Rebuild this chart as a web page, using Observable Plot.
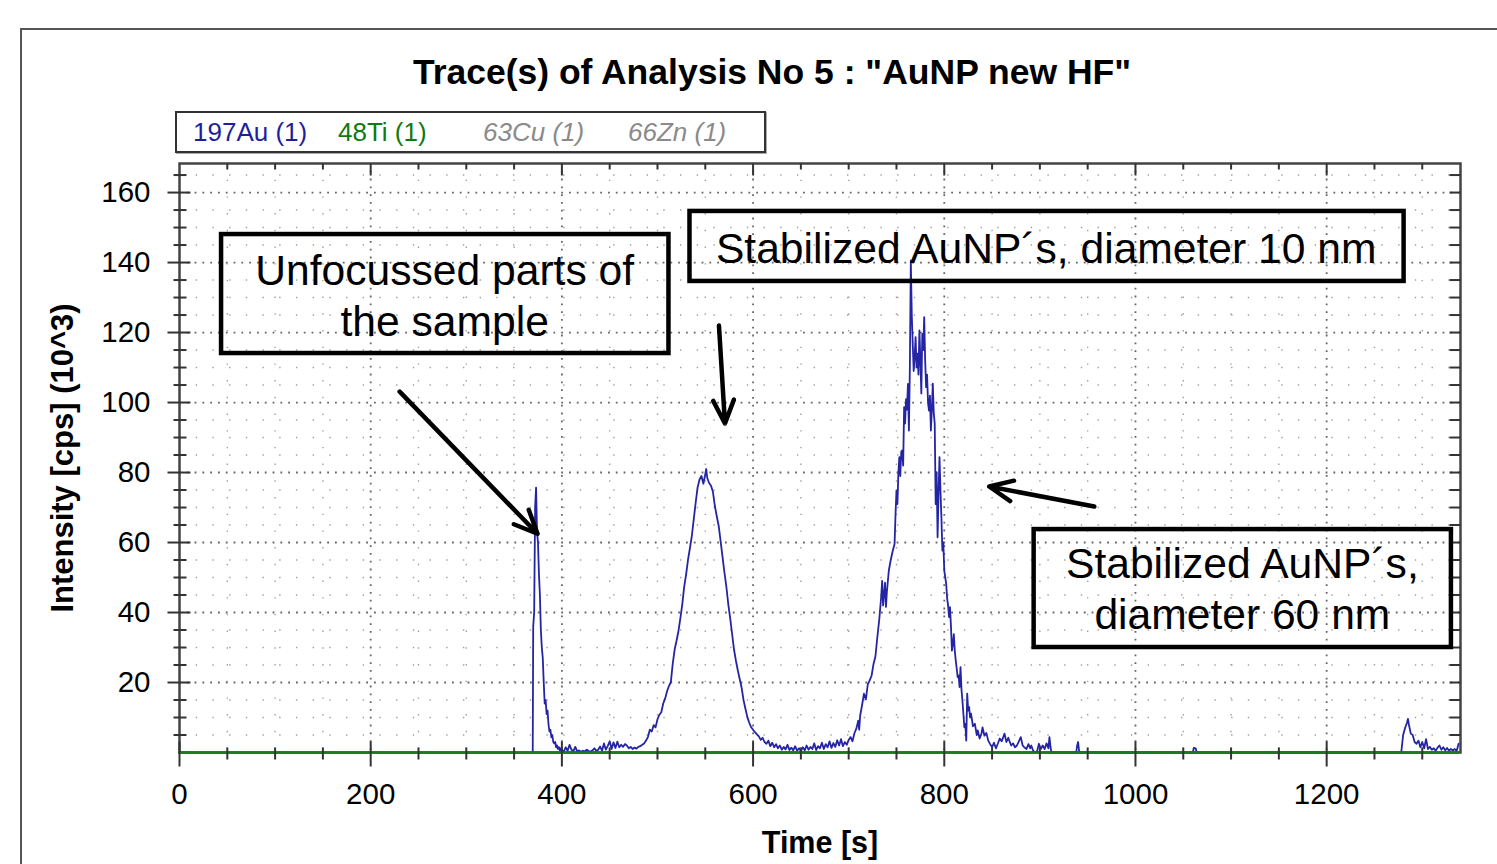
<!DOCTYPE html>
<html><head><meta charset="utf-8">
<script src="https://cdn.jsdelivr.net/npm/d3@7"></script>
<script src="https://cdn.jsdelivr.net/npm/@observablehq/plot@0.6"></script>
<style>
html,body{margin:0;padding:0;background:#fff;overflow:hidden;}
body{width:1497px;height:864px;position:relative;font-family:Arial,"Liberation Sans",sans-serif;}
#header{position:relative;height:155px;}
#title{position:absolute;left:0;width:1544px;top:52px;text-align:center;font-size:35.5px;font-weight:bold;line-height:40px;color:#000;}
#legend{position:absolute;left:175px;top:111px;width:587px;height:38px;border:2px solid #333;box-shadow:1px 1px 0 #aaa;}
.item{position:absolute;top:0;font-size:26px;line-height:38px;white-space:nowrap;}
#frame{position:absolute;left:20px;top:28px;width:1500px;height:900px;border-top:2px solid #555;border-left:2px solid #555;pointer-events:none;}
#chart{position:relative;}
</style>
</head>
<body>
<div id="header">
  <div id="title">Trace(s) of Analysis No 5 : "AuNP new HF"</div>
  <div id="legend"></div>
</div>
<div id="chart"></div>
<div id="frame"></div>
<script>
// ---- data ----
const legendLabels = ["197Au (1)", "48Ti (1)", "63Cu (1)", "66Zn (1)"];
const legendColors = ["#1f1f9a", "#0f7a0f", "#8a8a8a", "#8a8a8a"];
const legendItalic = [false, false, true, true];

const xTickValues = [0, 200, 400, 600, 800, 1000, 1200];
const yTickValues = [20, 40, 60, 80, 100, 120, 140, 160];

// 197Au trace: [time s, intensity 10^3 cps]
const au197 = [
[369.5,0],[370,36],[371,40],[372,70],[373,75.7],[374,63],[375,60],[376,51],[377,45],[378,35],[379,30],[380,27],[381,20],[382,14],[383,15],[384,11],[385,12],[386,8],[387,6],[388,6.5],[389,4.3],[390,5],[391,3],[392,2.6],[393,3],[394,1.5],[395,2],[396,1],[397,1.5],[398,0.5],[399,1.2],[400,0.6],
[402,0.3],[404,1.5],[406,0.5],[408,2.2],[410,0.8],[412,0.4],[414,1.6],[416,0.3],[418,0.6],[420,0.2],[422,0.5],[424,0.3],[426,0.8],[428,0.4],[430,0.3],[432,0.6],[434,1.2],[436,0.4],[438,0.8],[440,1.7],[442,0.5],[444,2.6],[446,0.8],[448,1.9],[450,3.2],[452,1.0],[454,2.9],[456,1.3],[458,3.1],[460,1.5],[462,2.2],[464,1.6],[466,2.4],[468,2.0],
[470,1.2],[472,1.6],[474,1.0],[476,1.4],[478,1.1],[480,1.6],[482,1.8],[484,2.2],[486,2.6],[488,3.4],[490,4.4],
[492,6.5],[494,6.0],[496,7.8],[498,7.2],[500,9.5],[502,10.8],[504,11.5],[506,14.0],[508,15.4],[510,17.5],[512,19.0],[514,20.2],[516,25.5],[518,29.5],[520,32.0],[522,34.8],[524,38.5],[526,42.5],[528,47.5],[530,51.0],[532,55.2],[534,58.5],[536,62.0],[538,66.8],[540,71.5],[542,75.8],[544,78.0],[546,79.0],[548,76.8],[550,79.5],[551,81.0],[552,78.5],[554,77.0],[556,76.2],[558,74.5],[560,70.5],[562,67.5],[564,64.8],[566,60.5],[568,56.0],[570,51.5],[572,47.5],[574,42.5],[576,38.5],[578,34.0],[580,29.5],[582,26.3],[584,23.5],[586,21.0],[588,18.5],[590,15.0],[592,12.5],[594,10.1],[596,8.5],[598,7.2],[600,6.5],[602,5.8],[604,5.2],[606,4.6],[608,3.6],[610,4.2],[612,3.0],[614,2.5],[616,3.4],[618,1.8],[620,2.8],[622,1.5],[624,2.4],[626,1.2],[628,2.0],[630,0.8],[632,1.6],[634,0.9],[636,2.2],[638,0.7],[640,1.4],[642,0.6],[644,1.8],[646,0.5],[648,1.2],[650,0.4],[652,1.5],[654,0.6],[656,2.0],[658,0.8],[660,1.6],[662,1.0],[664,2.6],[666,0.7],[668,1.8],[670,1.2],[672,2.8],[674,1.0],[676,2.4],[678,1.5],[680,3.2],[682,1.3],[684,2.7],[686,1.6],[688,3.5],[690,2.0],[692,3.8],[694,1.8],[696,3.0],[698,2.2],[700,3.6],
[702,4.4],[704,3.2],[706,5.5],[708,6.8],[710,9.1],[711,6.5],[712,10.5],[714,13.5],[716,16.8],[718,15.2],[720,19.5],[722,20.6],[724,22.0],[726,25.3],[728,27.5],[730,33.0],[732,38.0],[734,44.5],[735,49.0],[736,42.0],[738,48.5],[739,41.6],[740,46.0],[742,52.0],[744,55.0],[746,57.5],[748,59.6],[749,68.0],[750,74.9],[751,71.0],[752,80.0],[753,84.4],[754,79.0],[755,86.0],[756,86.3],[757,82.0],[758,98.7],[759,94.0],[760,101.0],[761,98.0],[762,105.3],[763,92.0],[764,110.0],[765,140.6],[766,125.0],[767,116.8],[768,109.0],[769,113.0],[770,118.7],[771,110.0],[772,114.0],[773,108.0],[774,120.6],[775,112.0],[776,102.6],[777,119.6],[778,115.0],[779,124.4],[780,112.0],[781,104.4],[782,108.0],[783,100.0],[784,97.7],[785,102.0],[786,92.0],[787,98.0],[788,105.4],[789,97.0],[790,94.0],[791,71.0],[792,80.0],[793,61.5],[794,74.0],[795,84.4],[796,75.0],[797,67.2],[798,57.7],[799,60.0],[800,52.0],[802,48.2],[803,44.0],[804,42.0],[805,38.7],[806,41.5],[807,36.0],[808,29.1],[809,31.0],[810,33.8],[811,29.0],[812,26.3],[813,24.0],[814,21.5],[815,22.0],[816,18.7],[817,24.4],[818,18.0],[819,14.8],[820,11.0],[821,7.2],[822,8.2],[823,3.4],[824,16.8],[825,12.0],[826,13.0],[827,10.0],[828,11.1],[830,7.5],[832,8.2],[834,5.0],[835,6.3],[837,4.0],[839,5.5],[840,7.2],[842,4.8],[844,5.6],[846,3.4],[848,2.4],[850,1.5],[852,2.8],[854,1.2],[856,2.5],[858,4.0],[860,3.2],[862,4.6],[863,5.4],[865,3.0],[867,4.2],[868,3.4],[870,2.0],[872,2.6],[874,1.5],[876,2.0],[878,3.2],[880,4.4],[882,2.0],[884,1.4],[886,1.0],[888,2.4],[890,1.2],[891,2.0],[893,0.5],[895,0],[897,0.3],[899,2.5],[901,1.0],[903,2.0],[905,1.0],[907,2.6],[909,1.2],[910,4.4],[911,2.0],[912,0],
[938,0],[939,2.0],[940,3.0],[941,0.5],[942,0],
[1060,0],[1061,1.3],[1063,1.2],[1064,0],
[1278,0],[1280,5.0],[1282,7.0],[1284,8.5],[1285,9.6],[1286,8.0],[1288,5.4],[1290,5.0],[1292,3.0],[1294,2.5],[1296,3.4],[1298,1.5],[1300,3.0],[1302,1.2],[1304,3.8],[1306,1.0],[1308,1.6],[1310,0.8],[1312,1.2],[1314,0.5],[1316,1.4],[1318,2.0],[1320,0.8],[1322,1.5],[1324,0.6],[1326,1.3],[1328,0.5],[1330,1.0],[1332,0.6],[1334,1.0],[1336,0.4],[1338,2.5]
];

// 48Ti trace (flat at zero)
const ti48 = [[0,0],[400,0],[800,0],[1200,0],[1338,0]];

// annotations (data coordinates)
const annBoxes = [
  {x1: 44, x2: 512, y1: 114, y2: 148},
  {x1: 534, x2: 1281, y1: 134.6, y2: 154.6},
  {x1: 894, x2: 1330.5, y1: 30, y2: 63.7}
];
const annTexts = [
  {x: 277.4, y: 130.9, text: "Unfocussed parts of\nthe sample"},
  {x: 906.6, y: 144.5, text: "Stabilized AuNP´s, diameter 10 nm"},
  {x: 1111.8, y: 47.2, text: "Stabilized AuNP´s,\ndiameter 60 nm"}
];
const annArrows = [
  {x1: 230.3, y1: 103.1, x2: 374.5, y2: 62.5},
  {x1: 564.3, y1: 122, x2: 570.6, y2: 94},
  {x1: 956.9, y1: 70.3, x2: 847, y2: 76}
];

// ---- legend ----
const legend = document.getElementById("legend");
const legendLeft = [16, 161, 306, 451];
legendLabels.forEach((lab, i) => {
  const s = document.createElement("span");
  s.className = "item";
  s.textContent = lab;
  s.style.left = legendLeft[i] + "px";
  s.style.color = legendColors[i];
  if (legendItalic[i]) s.style.fontStyle = "italic";
  legend.appendChild(s);
});

// ---- chart ----
const X_MAX = 1340, Y_MAX = 168.3;
const xMinor = d3.range(50, X_MAX, 50).filter(v => v % 200 !== 0);
const yMinor = d3.range(5, Y_MAX, 5).filter(v => v % 20 !== 0);
const xMajorGrid = xTickValues.filter(v => v > 0);
const yAll5 = d3.range(5, Y_MAX, 5);

const vTick = (up, down) => ({draw(ctx) { ctx.moveTo(0, -up); ctx.lineTo(0, down); }});
const hTick = (left, right) => ({draw(ctx) { ctx.moveTo(-left, 0); ctx.lineTo(right, 0); }});
const tickStyle = {r: 1, stroke: "#333", strokeWidth: 2, fill: "none"};
const font = 'Arial, "Liberation Sans", sans-serif';

const chart = Plot.plot({
  width: 1497,
  height: 709,
  marginLeft: 179,
  marginRight: 37,
  marginTop: 8,
  marginBottom: 112,
  x: {domain: [0, X_MAX]},
  y: {domain: [0, Y_MAX]},
  style: {fontFamily: font, background: "transparent", color: "#000", overflow: "visible"},
  marks: [
    // grid
    Plot.ruleY(yMinor, {stroke: "#a0a0a0", strokeWidth: 1.4, strokeDasharray: "1.4,15.3"}),
    Plot.ruleX(xMinor, {stroke: "#a0a0a0", strokeWidth: 1.4, strokeDasharray: "1.4,15.3"}),
    Plot.ruleY(yTickValues, {stroke: "#666", strokeWidth: 1.8, strokeDasharray: "1.8,6"}),
    Plot.ruleX(xMajorGrid, {stroke: "#666", strokeWidth: 1.8, strokeDasharray: "1.8,6"}),
    Plot.frame({stroke: "#444", strokeWidth: 2.5}),
    // traces
    Plot.line(au197, {x: d => d[0], y: d => d[1], stroke: "#2424a4", strokeWidth: 1.8}),
    Plot.line(ti48, {x: d => d[0], y: d => d[1], stroke: "#1b7a1b", strokeWidth: 2.6}),
    // ticks bottom
    Plot.dot(xMinor, {x: d => d, y: 0, symbol: vTick(5, 7), ...tickStyle}),
    Plot.dot(xTickValues, {x: d => d, y: 0, symbol: vTick(11, 14), ...tickStyle}),
    // ticks top
    Plot.dot(xMinor, {x: d => d, y: Y_MAX, symbol: vTick(0, 6), ...tickStyle}),
    Plot.dot(xMajorGrid, {x: d => d, y: Y_MAX, symbol: vTick(0, 12), ...tickStyle}),
    // ticks left
    Plot.dot(yMinor, {x: 0, y: d => d, symbol: hTick(6, 7), ...tickStyle}),
    Plot.dot(yTickValues, {x: 0, y: d => d, symbol: hTick(12, 11), ...tickStyle}),
    // ticks right
    Plot.dot(yAll5, {x: X_MAX, y: d => d, symbol: hTick(11, 0), ...tickStyle}),
    // axes labels
    Plot.axisX({ticks: xTickValues, tickFormat: d => String(d), tickSize: 0, tickPadding: 31, fontSize: 29.5, label: null}),
    Plot.axisY({ticks: yTickValues, tickFormat: d => String(d), tickSize: 0, tickPadding: 29, fontSize: 29.5, label: null}),
    Plot.text(["Time [s]"], {frameAnchor: "bottom", dy: 91, lineAnchor: "middle", textAnchor: "middle", fontSize: 30.5, fontWeight: "bold", fill: "#000"}),
    Plot.text(["Intensity [cps] (10^3)"], {frameAnchor: "left", dx: -116, rotate: -90, lineAnchor: "middle", textAnchor: "middle", fontSize: 31, fontWeight: "bold", fill: "#000"}),
    // annotations
    Plot.rect(annBoxes, {x1: "x1", x2: "x2", y1: "y1", y2: "y2", fill: "none", stroke: "#000", strokeWidth: 4.5}),
    Plot.text(annTexts, {x: "x", y: "y", text: "text", fontSize: 42.6, lineHeight: 1.2, fill: "#000"}),
    Plot.arrow(annArrows, {x1: "x1", y1: "y1", x2: "x2", y2: "y2", stroke: "#000", strokeWidth: 4.5, headLength: 8.5, headAngle: 48})
  ]
});
document.getElementById("chart").appendChild(chart);
</script>
</body></html>
